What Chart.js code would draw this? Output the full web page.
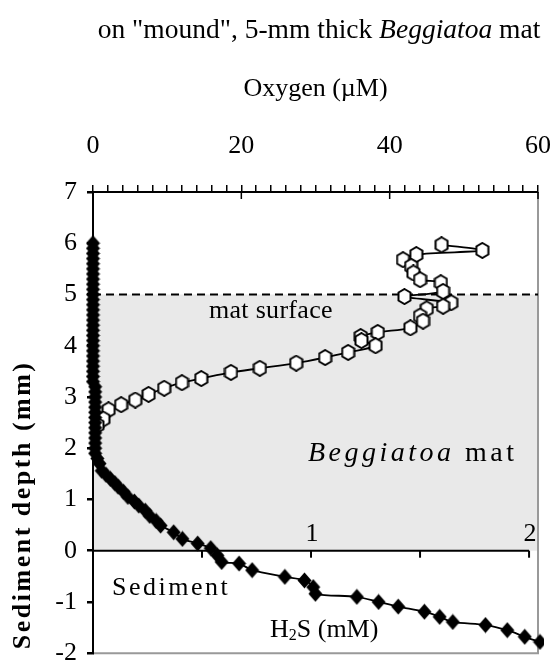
<!DOCTYPE html>
<html><head><meta charset="utf-8">
<script src="https://cdn.jsdelivr.net/npm/chart.js@4/dist/chart.umd.min.js"></script>
<style>html,body{margin:0;padding:0;background:#fff}#wrap{width:553px;height:662px}</style>
</head><body><div id="wrap"><canvas id="c" width="553" height="662"></canvas></div>
<script>
// ---- data ----
const oxygenUM    = [47.0, 52.5, 43.6, 41.8, 42.9, 43.2, 44.1, 46.9, 47.2, 42.0, 48.3, 47.2, 45.0, 44.1, 44.5, 42.8, 38.4, 36.1, 36.2, 38.1, 34.4, 31.3, 27.4, 22.5, 18.6, 14.6, 12.0, 9.6, 7.5, 5.7, 3.8, 2.1, 1.4, 0.6];
const oxygenDepth = [5.97, 5.86, 5.78, 5.68, 5.55, 5.42, 5.29, 5.23, 5.06, 4.96, 4.84, 4.77, 4.72, 4.58, 4.48, 4.35, 4.26, 4.18, 4.10, 4.00, 3.87, 3.77, 3.66, 3.56, 3.48, 3.36, 3.28, 3.17, 3.05, 2.94, 2.85, 2.75, 2.57, 2.45];
const h2sMM    = [0, 0, 0, 0, 0, 0, 0, 0, 0, 0, 0, 0, 0, 0, 0, 0, 0, 0, 0, 0, 0, 0, 0, 0, 0, 0, 0, 0, 0.01, 0.01, 0.01, 0.01, 0.01, 0.01, 0.01, 0.01, 0.01, 0.01, 0.01, 0.01, 0.01,
                  0.01, 0.02, 0.03, 0.04, 0.06, 0.08, 0.10, 0.115, 0.14, 0.16, 0.19, 0.21, 0.24, 0.26, 0.29, 0.31, 0.37, 0.41, 0.48, 0.54, 0.57, 0.59, 0.67, 0.73, 0.88, 0.97, 1.01, 1.02, 1.21, 1.31, 1.40, 1.52, 1.59, 1.65, 1.80, 1.90, 1.98, 2.05];
const h2sDepth = [6.0, 5.9, 5.8, 5.7, 5.6, 5.5, 5.4, 5.3, 5.2, 5.1, 5.0, 4.9, 4.8, 4.7, 4.6, 4.5, 4.4, 4.3, 4.2, 4.1, 4.0, 3.9, 3.8, 3.7, 3.6, 3.5, 3.4, 3.3, 3.2, 3.1, 3.0, 2.9, 2.8, 2.7, 2.6, 2.5, 2.4, 2.3, 2.2, 2.1, 2.0,
                  1.9, 1.8, 1.7, 1.56, 1.48, 1.40, 1.32, 1.25, 1.15, 1.05, 0.96, 0.88, 0.78, 0.68, 0.58, 0.49, 0.36, 0.23, 0.14, 0.05, -0.09, -0.22, -0.25, -0.38, -0.51, -0.58, -0.71, -0.84, -0.90, -1.00, -1.09, -1.19, -1.29, -1.39, -1.45, -1.55, -1.68, -1.78];
const oxygenTickLabels = [0, 20, 40, 60];
const h2sTickLabels = [1, 2];
const h2sTicks = [0.5, 1, 1.5, 2];
const matTop = 5;
const matBottom = 0;

const SERIF = "'Liberation Serif', 'Times New Roman', serif";

function hexMarker() {
  const c = document.createElement('canvas'); c.width = 15; c.height = 17;
  const g = c.getContext('2d');
  g.beginPath();
  g.moveTo(7.5, 1); g.lineTo(13.5, 4.5); g.lineTo(13.5, 12.5); g.lineTo(7.5, 16); g.lineTo(1.5, 12.5); g.lineTo(1.5, 4.5); g.closePath();
  g.fillStyle = '#fff'; g.fill(); g.lineWidth = 2; g.strokeStyle = '#000'; g.stroke();
  return c;
}
function diamondMarker() {
  const c = document.createElement('canvas'); c.width = 15; c.height = 17;
  const g = c.getContext('2d');
  g.beginPath();
  g.moveTo(7.5, 0.5); g.lineTo(14.5, 8.5); g.lineTo(7.5, 16.5); g.lineTo(0.5, 8.5); g.closePath();
  g.fillStyle = '#000'; g.fill();
  return c;
}

function spacedText(ctx, txt, x, y, spacing) {
  ctx.letterSpacing = spacing + 'px';
  ctx.fillText(txt, x, y);
  ctx.letterSpacing = '0px';
}

const decor = {
  id: 'decor',
  beforeDraw(chart) {
    const {ctx, chartArea: a, scales: {y}} = chart;
    ctx.save();
    ctx.fillStyle = '#fff'; ctx.fillRect(0, 0, chart.width, chart.height);
    ctx.fillStyle = '#e9e9e9';
    const yt = y.getPixelForValue(matTop), yb = y.getPixelForValue(matBottom);
    ctx.fillRect(a.left, yt, a.right - a.left, yb - yt);
    // gray right/bottom frame
    ctx.strokeStyle = '#999'; ctx.lineWidth = 2;
    ctx.beginPath(); ctx.moveTo(a.right, a.top); ctx.lineTo(a.right, a.bottom); ctx.lineTo(a.left, a.bottom); ctx.stroke();
    // title
    ctx.fillStyle = '#000'; ctx.textBaseline = 'middle';
    const parts = [['on "mound", 5-mm thick ', 'normal'], ['Beggiatoa', 'italic'], [' mat', 'normal']];
    let w = 0;
    parts.forEach(p => { ctx.font = p[1] + ' 27.5px ' + SERIF; w += ctx.measureText(p[0]).width; });
    let x = 319 - w / 2;
    ctx.textAlign = 'left';
    parts.forEach(p => { ctx.font = p[1] + ' 27.5px ' + SERIF; ctx.fillText(p[0], x, 31); x += ctx.measureText(p[0]).width; });
    // y axis title
    ctx.save();
    ctx.translate(23, a.bottom - 4);
    ctx.rotate(-Math.PI / 2);
    ctx.font = 'bold 26px ' + SERIF; ctx.textAlign = 'left';
    spacedText(ctx, 'Sediment depth (mm)', 0, 0, 2.5);
    ctx.restore();
    ctx.restore();
  },
  beforeDatasetsDraw(chart) {
    const {ctx, chartArea: a, scales: {x, x2, y}} = chart;
    ctx.save();
    // dashed mat surface
    const y5 = y.getPixelForValue(matTop);
    ctx.strokeStyle = '#000'; ctx.lineWidth = 2; ctx.setLineDash([8, 5]);
    ctx.beginPath(); ctx.moveTo(a.left, y5); ctx.lineTo(a.right, y5); ctx.stroke();
    ctx.setLineDash([]);
    // inner major ticks on top oxygen axis
    ctx.lineWidth = 1.5;
    oxygenTickLabels.forEach(v => { const px = x.getPixelForValue(v); ctx.beginPath(); ctx.moveTo(px, a.top); ctx.lineTo(px, a.top + 7); ctx.stroke(); });
    // H2S axis along depth 0
    const y0 = y.getPixelForValue(0);
    ctx.lineWidth = 2;
    ctx.beginPath(); ctx.moveTo(x2.getPixelForValue(0), y0); ctx.lineTo(x2.getPixelForValue(2), y0); ctx.stroke();
    h2sTicks.forEach(v => { const px = x2.getPixelForValue(v); ctx.beginPath(); ctx.moveTo(px, y0); ctx.lineTo(px, y0 + 7); ctx.stroke(); });
    ctx.fillStyle = '#000'; ctx.font = '26px ' + SERIF; ctx.textAlign = 'center'; ctx.textBaseline = 'middle';
    h2sTickLabels.forEach(v => ctx.fillText(String(v), x2.getPixelForValue(v) + 1, y0 - 17));
    // annotation texts
    ctx.textAlign = 'left';
    ctx.font = '26px ' + SERIF;
    spacedText(ctx, 'mat surface', 209, 311, 0.3);
    spacedText(ctx, 'Sediment', 112, 588, 2.5);
    // Beggiatoa mat
    ctx.font = 'italic 28px ' + SERIF;
    ctx.letterSpacing = '3.5px';
    const w1 = ctx.measureText('Beggiatoa').width;
    ctx.fillText('Beggiatoa', 308, 454);
    ctx.font = '28px ' + SERIF;
    ctx.fillText(' mat', 308 + w1, 454);
    ctx.letterSpacing = '0px';
    // H2S (mM)
    ctx.font = '26px ' + SERIF;
    let hx = 270;
    ctx.fillText('H', hx, 630); hx += ctx.measureText('H').width;
    ctx.font = '16px ' + SERIF; ctx.fillText('2', hx, 636); hx += ctx.measureText('2').width;
    ctx.font = '26px ' + SERIF; ctx.fillText('S (mM)', hx, 630);
    ctx.restore();
  }
};

new Chart(document.getElementById('c'), {
  type: 'scatter',
  data: {
    datasets: [
      {
        label: 'H2S', xAxisID: 'x2', yAxisID: 'y', order: 0,
        data: h2sMM.map((v, i) => ({x: v, y: h2sDepth[i]})),
        showLine: true, borderColor: '#000', borderWidth: 1.8, tension: 0.3,
        clip: {left: 12, top: 12, right: 6, bottom: 12},
        pointStyle: diamondMarker(), pointRadius: 7, pointHoverRadius: 7
      },
      {
        label: 'Oxygen', xAxisID: 'x', yAxisID: 'y', order: 1,
        data: oxygenUM.map((v, i) => ({x: v, y: oxygenDepth[i]})),
        showLine: true, borderColor: '#000', borderWidth: 1.8, tension: 0.3,
        clip: false,
        pointStyle: hexMarker(), pointRadius: 7, pointHoverRadius: 7
      }
    ]
  },
  options: {
    responsive: false, animation: false, devicePixelRatio: 1,
    layout: {padding: {left: 0, right: 15, top: 0, bottom: 7}},
    plugins: {legend: {display: false}, tooltip: {enabled: false}, title: {display: false}},
    scales: {
      x: {
        type: 'linear', position: 'top', min: 0, max: 60,
        ticks: {stepSize: 2, autoSkip: false, maxRotation: 0, padding: 23, color: '#000',
          font: {family: SERIF, size: 26},
          callback: v => oxygenTickLabels.includes(v) ? String(v) : ''},
        grid: {drawOnChartArea: false, tickLength: 7, color: '#000', lineWidth: 1.5},
        border: {color: '#000', width: 2},
        title: {display: true, text: 'Oxygen (µM)', color: '#000', font: {family: SERIF, size: 26}, padding: {top: 74, bottom: 0}},
        afterFit: s => { s.height = 192; s.paddingLeft = 0; s.paddingRight = 0; }
      },
      x2: {type: 'linear', display: false, min: 0, max: 2.041},
      y: {
        type: 'linear', position: 'left', min: -2, max: 7,
        ticks: {stepSize: 1, padding: 10, color: '#000', font: {family: SERIF, size: 26}},
        grid: {drawOnChartArea: false, tickLength: 6, color: '#000', lineWidth: 2.5},
        border: {color: '#000', width: 2},
        title: {display: false},
        afterFit: s => { s.width = 93; s.paddingTop = 0; s.paddingBottom = 0; }
      }
    }
  },
  plugins: [decor]
});
</script></body></html>
